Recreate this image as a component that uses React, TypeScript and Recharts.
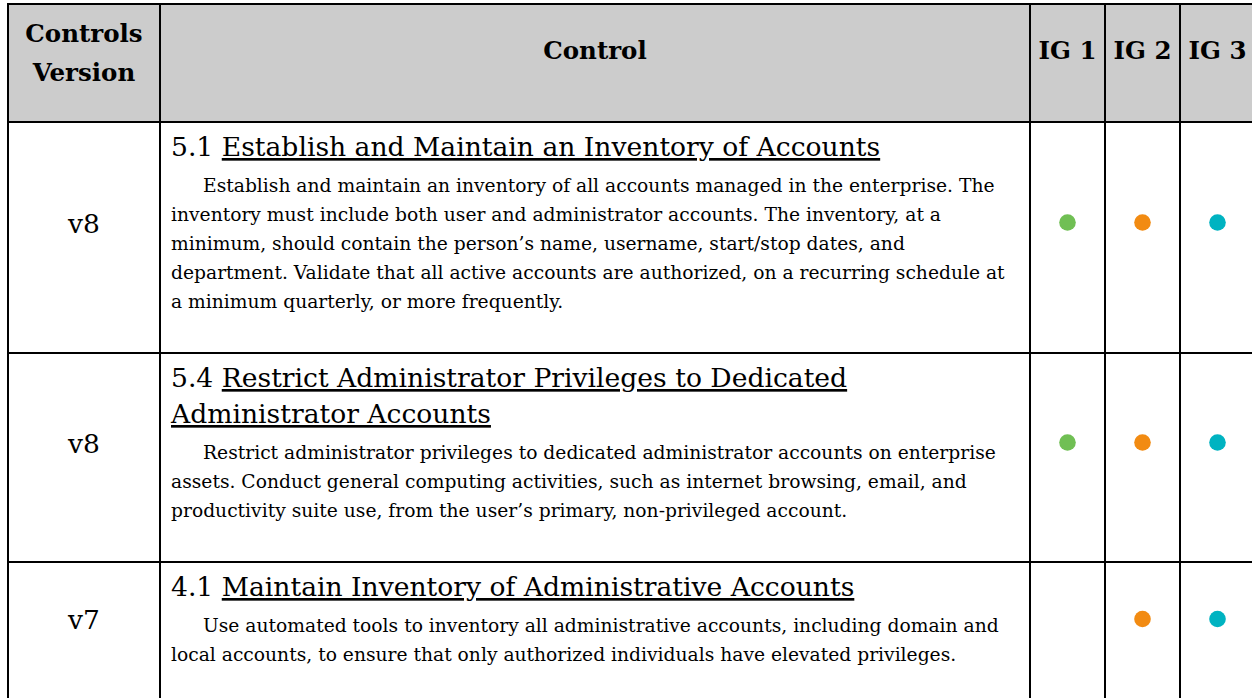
import React from 'react';
import { ScatterChart, Scatter, XAxis, YAxis, Customized } from 'recharts';

// table content
const versionLabels = ['v8', 'v8', 'v7'];
const controlNumbers = ['5.1', '5.4', '4.1'];
const titleLines = [
  ['Establish and Maintain an Inventory of Accounts'],
  ['Restrict Administrator Privileges to Dedicated', 'Administrator Accounts'],
  ['Maintain Inventory of Administrative Accounts'],
];
const descriptionLines = [
  [
    'Establish and maintain an inventory of all accounts managed in the enterprise. The',
    'inventory must include both user and administrator accounts. The inventory, at a',
    'minimum, should contain the person\u2019s name, username, start/stop dates, and',
    'department. Validate that all active accounts are authorized, on a recurring schedule at',
    'a minimum quarterly, or more frequently.',
  ],
  [
    'Restrict administrator privileges to dedicated administrator accounts on enterprise',
    'assets. Conduct general computing activities, such as internet browsing, email, and',
    'productivity suite use, from the user\u2019s primary, non-privileged account.',
  ],
  [
    'Use automated tools to inventory all administrative accounts, including domain and',
    'local accounts, to ensure that only authorized individuals have elevated privileges.',
  ],
];
const igLabels = ['IG 1', 'IG 2', 'IG 3'];
const ig1 = [true, true, false];
const ig2 = [true, true, true];
const ig3 = [true, true, true];
const igColors = ['#70bf54', '#f28b12', '#00b3c1'];

// layout
const W = 1256;
const H = 698;
const FONT = 'DejaVu Serif';
const TABLE_TOP = 4;
const TABLE_LEFT = 8;
const HEADER_BOTTOM = 122;
const VERSION_RIGHT = 160;
const IG_LEFT = 1030;
const TITLE_LH = 36;
const BODY_LH = 29;

const rows = (() => {
  let top = HEADER_BOTTOM;
  return titleLines.map((tl, i) => {
    const titleBase = tl.map((_, j) => top + 34 + j * TITLE_LH);
    const lastTitle = titleBase[titleBase.length - 1];
    const bodyBase = descriptionLines[i].map((_, j) => lastTitle + 36 + j * BODY_LH);
    const bottom = bodyBase[bodyBase.length - 1] + 45;
    const r = { top, bottom, titleBase, bodyBase, mid: (top + bottom) / 2 - 15 };
    top = bottom;
    return r;
  });
})();

const flags = [ig1, ig2, ig3];
const series = igLabels.map((label, k) =>
  flags[k]
    .map((on, i) => (on ? { ig: label, y: rows[i].mid } : null))
    .filter(Boolean)
);

const TableLayer = () => {
  const colLines = [TABLE_LEFT, VERSION_RIGHT, IG_LEFT, IG_LEFT + 75, IG_LEFT + 150];
  const rowLines = [TABLE_TOP, HEADER_BOTTOM, ...rows.map((r) => r.bottom)];
  return (
    <g>
      <rect x={TABLE_LEFT} y={TABLE_TOP} width={W - TABLE_LEFT} height={HEADER_BOTTOM - TABLE_TOP} fill="#cccccc" />
      <text fontFamily={FONT} fontWeight="bold" fontSize={24.5} textAnchor="middle" fill="#000">
        <tspan x={(TABLE_LEFT + VERSION_RIGHT) / 2} y={42}>Controls</tspan>
        <tspan x={(TABLE_LEFT + VERSION_RIGHT) / 2} y={81}>Version</tspan>
      </text>
      <text x={(VERSION_RIGHT + IG_LEFT) / 2} y={59} fontFamily={FONT} fontWeight="bold" fontSize={24.5} textAnchor="middle" fill="#000">
        Control
      </text>
      {rows.map((r, i) => (
        <g key={i}>
          <text x={(TABLE_LEFT + VERSION_RIGHT) / 2} y={r.mid + 10} fontFamily={FONT} fontSize={26.5} textAnchor="middle" fill="#000">
            {versionLabels[i]}
          </text>
          {titleLines[i].map((line, j) => (
            <text key={j} x={VERSION_RIGHT + 11} y={r.titleBase[j]} fontFamily={FONT} fontSize={26.6} fill="#000">
              {j === 0 && <tspan>{controlNumbers[i] + ' '}</tspan>}
              <tspan style={{ textDecoration: 'underline' }}>{line}</tspan>
            </text>
          ))}
          {descriptionLines[i].map((line, j) => (
            <text key={'d' + j} x={VERSION_RIGHT + (j === 0 ? 43 : 11)} y={r.bodyBase[j]} fontFamily={FONT} fontSize={18.7} fill="#000">
              {line}
            </text>
          ))}
        </g>
      ))}
      {rowLines.map((y, i) => (
        <line key={'h' + i} x1={TABLE_LEFT - 1} x2={W} y1={y} y2={y} stroke="#000" strokeWidth={2} />
      ))}
      {colLines.map((x, i) => (
        <line key={'v' + i} x1={x} x2={x} y1={TABLE_TOP - 1} y2={H + 20} stroke="#000" strokeWidth={2} />
      ))}
    </g>
  );
};

const Dot = (color: string) => (props: any) => <circle cx={props.cx} cy={props.cy} r={8.3} fill={color} />;

export default function App() {
  return (
    <div style={{ position: 'absolute', left: 0, top: 0, width: 1252, height: H, overflow: 'hidden', background: '#fff' }}>
      <ScatterChart width={W} height={H} margin={{ top: 0, right: 1, bottom: 0, left: IG_LEFT }}>
        <Customized component={TableLayer} />
        <XAxis
          xAxisId={0}
          type="category"
          dataKey="ig"
          orientation="top"
          height={HEADER_BOTTOM}
          allowDuplicatedCategory={false}
          axisLine={false}
          tickLine={false}
          tickSize={0}
          tickMargin={63}
          interval={0}
          tick={{ fontFamily: FONT, fontWeight: 'bold', fontSize: 24.5, fill: '#000' }}
        />
        <YAxis type="number" dataKey="y" domain={[HEADER_BOTTOM, H]} reversed allowDataOverflow hide />
        {series.map((data, k) => (
          <Scatter key={igLabels[k]} data={data} shape={Dot(igColors[k])} isAnimationActive={false} />
        ))}
      </ScatterChart>
    </div>
  );
}
